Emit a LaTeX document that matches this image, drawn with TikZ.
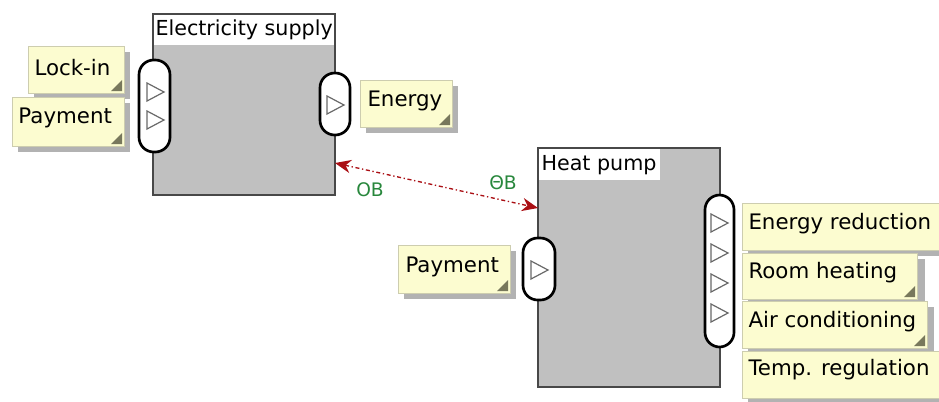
\documentclass[tikz,border=0pt]{standalone}
\usepackage{fontspec}
\setmainfont{DejaVu Sans}
\usetikzlibrary{arrows.meta}

\definecolor{noteyellow}{RGB}{252,252,208}
\definecolor{noteborder}{RGB}{205,205,175}
\definecolor{noteshadow}{RGB}{178,178,178}
\definecolor{notefold}{RGB}{120,120,92}
\definecolor{blockgray}{RGB}{192,192,192}
\definecolor{blockborder}{RGB}{72,72,72}
\definecolor{linkred}{RGB}{170,15,20}
\definecolor{labelgreen}{RGB}{40,135,60}

\tikzset{every picture/.style={line width=0.75pt}}
\tikzset{
  block/.style={fill=blockgray, draw=blockborder, line width=1.5pt},
  titlebar/.style={fill=white},
  port/.style={fill=white, draw=black, line width=2pt, rounded corners=11pt},
  porttri/.style={draw={rgb,255:red,105;green,105;blue,105}, line width=0.9pt, line join=miter},
  shadowbox/.style={fill=noteshadow},
  notebox/.style={fill=noteyellow, draw=noteborder, line width=0.75pt},
  fold/.style={fill=notefold},
  labeltext/.style={inner sep=0.75pt, font=\fontsize{16}{19}\selectfont},
  titletext/.style={inner sep=0.75pt, font=\fontsize{15.5}{18}\selectfont},
  multtext/.style={inner sep=0.75pt, text=labelgreen, font=\fontsize{14}{16}\selectfont},
  link/.style={draw=linkred, line width=1pt, dash dot, {Stealth[length=12pt,width=10pt]}-{Stealth[length=12pt,width=10pt]}}
}

\begin{document}
\begin{tikzpicture}[x=0.75pt,y=0.75pt,yscale=-1,xscale=1]
\path[use as bounding box] (0,0) rectangle (939,401);

%Shape: Block [Electricity supply]
\draw [block] (153,14) rectangle (335,195) ;
\fill [titlebar] (154,15) rectangle (334,45) ;
% Text Node
\draw (154,30) node [titletext, anchor=west] (estitle) {Electricity supply};

%Shape: Block [Heat pump]
\draw [block] (538,148) rectangle (720,387) ;
\fill [titlebar] (539,149) rectangle (660,180) ;
% Text Node
\draw (540,165) node [titletext, anchor=west] (hptitle) {Heat pump};

%Shape: Port [Electricity supply in]
\draw [port] (139,60) rectangle (170,152) ;
\draw [porttri] (147,83) -- (164,92) -- (147,101) -- cycle ;
\draw [porttri] (147,111) -- (164,120) -- (147,129) -- cycle ;
%Shape: Port [Electricity supply out]
\draw [port] (320,73) rectangle (350,135) ;
\draw [porttri] (327,96) -- (344,105) -- (327,114) -- cycle ;
%Shape: Port [Heat pump in]
\draw [port] (523,238) rectangle (555,300) ;
\draw [porttri] (531,261) -- (548,270) -- (531,279) -- cycle ;
%Shape: Port [Heat pump out]
\draw [port] (705,195) rectangle (734,347) ;
\foreach \y in {223,253,283,313}
  \draw [porttri] (711,\y-9) -- (728,\y) -- (711,\y+9) -- cycle ;

%Shape: Note [Lock-in]
\fill [shadowbox] (34,52) rectangle (130,99) ;
\draw [notebox] (28,46) rectangle (124,93) ;
\fill [fold] (122,80) -- (122,91) -- (111,91) -- cycle ;
% Text Node
\draw (33,68) node [labeltext, anchor=west] (lockin) {Lock-in};

%Shape: Note [Payment, left]
\fill [shadowbox] (18,103) rectangle (130,152) ;
\draw [notebox] (12,97) rectangle (124,146) ;
\fill [fold] (122,133) -- (122,144) -- (111,144) -- cycle ;
% Text Node
\draw (17,118) node [labeltext, anchor=west] (payes) {Payment};

%Shape: Note [Energy]
\fill [shadowbox] (366,86) rectangle (458,133) ;
\draw [notebox] (360,80) rectangle (452,127) ;
\fill [fold] (450,114) -- (450,125) -- (439,125) -- cycle ;
% Text Node
\draw (366,101) node [labeltext, anchor=west] (energy) {Energy};

%Shape: Note [Payment, heat pump]
\fill [shadowbox] (404,251) rectangle (516,299) ;
\draw [notebox] (398,245) rectangle (510,293) ;
\fill [fold] (508,280) -- (508,291) -- (497,291) -- cycle ;
% Text Node
\draw (404,267) node [labeltext, anchor=west] (payhp) {Payment};

%Shape: Note [Energy reduction]
\fill [shadowbox] (748,209) rectangle (951,256) ;
\draw [notebox] (742,203) rectangle (945,250) ;
% Text Node
\draw (747,224) node [labeltext, anchor=west] (enred) {Energy reduction};

%Shape: Note [Room heating]
\fill [shadowbox] (748,259) rectangle (925,305) ;
\draw [notebox] (742,253) rectangle (917,299) ;
\fill [fold] (915,286) -- (915,297) -- (904,297) -- cycle ;
% Text Node
\draw (747,273) node [labeltext, anchor=west] (roomheat) {Room heating};

%Shape: Note [Air conditioning]
\fill [shadowbox] (748,307) rectangle (934,354) ;
\draw [notebox] (742,301) rectangle (927,348) ;
\fill [fold] (925,335) -- (925,346) -- (914,346) -- cycle ;
% Text Node
\draw (747,322) node [labeltext, anchor=west] (aircon) {Air conditioning};

%Shape: Note [Temp. regulation]
\fill [shadowbox] (748,357) rectangle (951,404) ;
\draw [notebox] (742,351) rectangle (945,398) ;
% Text Node
\draw (747,370) node [labeltext, anchor=west] (tempreg) {Temp. regulation};

%Straight Lines [link]
\coordinate (esB) at (335,163) ;
\coordinate (hpB) at (538,208) ;
\draw [link] (esB) -- (hpB) ;

% Text Node
\draw (370,190) node [multtext] (multes) {OB};
% Text Node
\draw (503,183) node [multtext] (multhp) {ΘB};

\end{tikzpicture}
\end{document}
